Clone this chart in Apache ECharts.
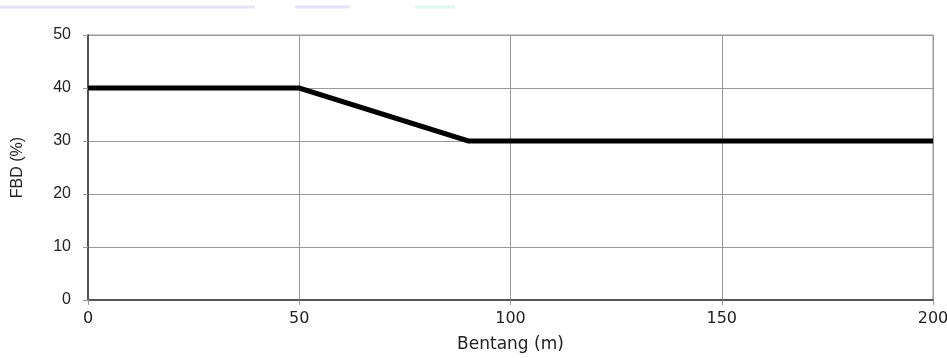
<!DOCTYPE html>
<html><head><meta charset="utf-8">
<script src="https://cdn.jsdelivr.net/npm/echarts@6/dist/echarts.min.js"></script>
<style>html,body{margin:0;padding:0;background:#fff}#c{width:947px;height:358px}</style>
</head><body><div id="c"></div>
<script>
const spanX = [0, 50, 90, 200];
const fbdY = [40, 40, 30, 30];
const xTicks = [0, 50, 100, 150, 200];
const yTicks = [0, 10, 20, 30, 40, 50];
const xName = 'Bentang (m)';
const yName = 'FBD (%)';

const chart = echarts.init(document.getElementById('c'));
const fontA = 'Liberation Sans, Arial, sans-serif';
const fontW = 'DejaVu Sans, sans-serif';
chart.setOption({
  animation: false,
  grid: { left: 88, top: 35, width: 845, height: 265, show: true, borderColor: '#999', borderWidth: 1,
          containLabel: false, outerBoundsMode: 'none' },
  xAxis: {
    type: 'value', min: 0, max: 200, interval: 50,
    name: xName, nameLocation: 'middle', nameGap: 36,
    nameTextStyle: { fontFamily: fontW, fontSize: 17, color: '#222' },
    axisLine: { show: true, lineStyle: { color: '#555', width: 2 } },
    axisTick: { show: true, length: 5, lineStyle: { color: '#999' } },
    axisLabel: { fontFamily: fontW, fontSize: 16, color: '#222', margin: 11 },
    splitLine: { show: true, lineStyle: { color: '#999', width: 1 } }
  },
  yAxis: {
    type: 'value', min: 0, max: 50, interval: 10,
    name: yName, nameLocation: 'middle', nameGap: 62, nameRotate: 90,
    nameTextStyle: { fontFamily: fontA, fontSize: 16, color: '#222' },
    axisLine: { show: true, lineStyle: { color: '#555', width: 2 } },
    axisTick: { show: true, length: 5, lineStyle: { color: '#999' } },
    axisLabel: { fontFamily: fontA, fontSize: 16, color: '#222', margin: 17 },
    splitLine: { show: true, lineStyle: { color: '#999', width: 1 } }
  },
  graphic: [
    { type: 'line', shape: { x1: 0, y1: 7, x2: 255, y2: 7 }, style: { stroke: '#e6e4f5', lineWidth: 3 } },
    { type: 'line', shape: { x1: 295, y1: 7, x2: 350, y2: 7 }, style: { stroke: '#e4e2f5', lineWidth: 3 } },
    { type: 'line', shape: { x1: 415, y1: 7, x2: 455, y2: 7 }, style: { stroke: '#e2f5ec', lineWidth: 3 } }
  ],
  series: [{
    type: 'line',
    data: spanX.map((x, i) => [x, fbdY[i]]),
    symbol: 'none',
    lineStyle: { color: '#000', width: 5, join: 'miter' }
  }]
});
</script></body></html>
